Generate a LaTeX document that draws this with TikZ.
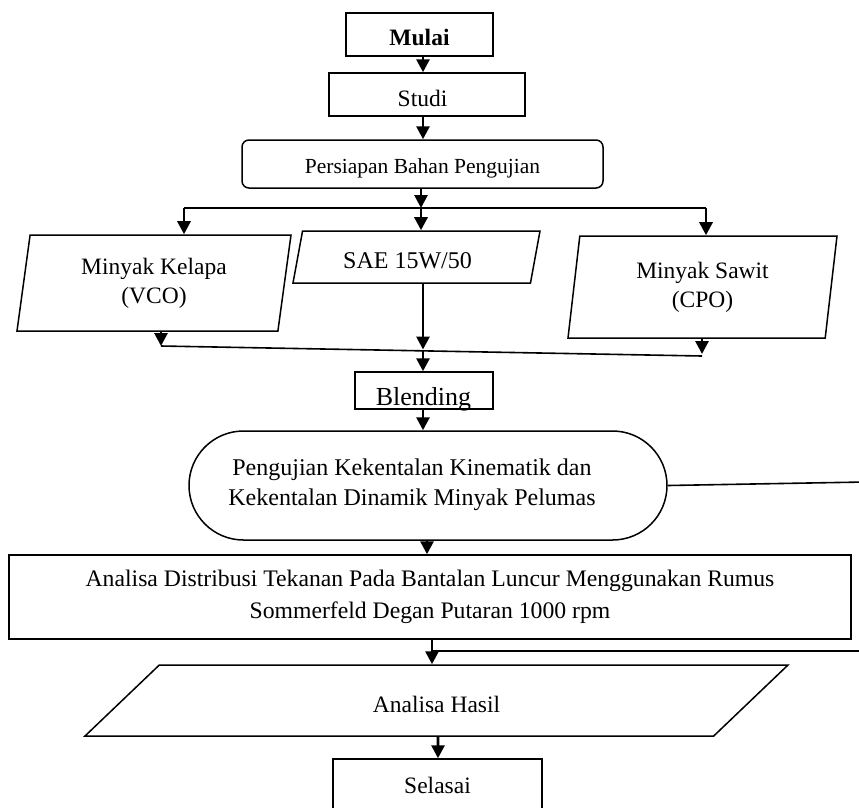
\documentclass[tikz,border=0pt]{standalone}
\usepackage{fontspec}
\setmainfont{Liberation Serif}
\usetikzlibrary{shapes.geometric,shapes.misc,arrows.meta}
\begin{document}
\begin{tikzpicture}[x=1pt,y=-1pt,
  box/.style={draw,line width=1.5pt,inner sep=0pt,align=center,font=\fontsize{23.5}{29}\selectfont},
  rbox/.style={box,rectangle},
  para/.style={box,trapezium,trapezium stretches body},
  arr/.style={line width=2.8pt,-{Triangle[length=13pt,width=13pt]}},
  ln/.style={line width=1.6pt}]
\useasboundingbox (0,0) rectangle (859,807);
\clip (0,0) rectangle (859,807);
\fill[white] (0,0) rectangle (859,807);

% nodes
\node[rbox,minimum width=147pt,minimum height=43pt,text height=22.4pt,text depth=0pt,font=\fontsize{23.5}{29}\selectfont\bfseries] (mulai) at (419.5,34.5) {Mulai};
\node[rbox,minimum width=196pt,minimum height=43pt,text height=23pt,text depth=0pt] (studi) at (427,94.5) {Studi\hspace*{9pt}};
\node[rbox,rounded corners=7pt,minimum width=361pt,minimum height=48pt,text height=18pt,text depth=0pt,font=\fontsize{21.5}{26}\selectfont] (siap) at (422.5,164) {Persiapan Bahan Pengujian};

\node[para,trapezium left angle=75.4,trapezium right angle=104.6,minimum width=274pt,minimum height=96pt] (vco) at (154,283) {Minyak Kelapa\\(VCO)};
\node[para,trapezium left angle=67.1,trapezium right angle=112.9,minimum width=247pt,minimum height=52pt,text height=22.6pt,text depth=0pt,font=\fontsize{24}{29}\selectfont] (sae) at (416.5,257) {SAE 15W/50\hspace*{18pt}};
\node[para,trapezium left angle=76.8,trapezium right angle=103.2,minimum width=269pt,minimum height=102pt] (cpo) at (702.5,287) {Minyak Sawit\\(CPO)};

\node[rbox,minimum width=138pt,minimum height=37pt] (blend) at (424,390.5) {};
\begin{scope}
\clip ([shift={(0.75pt,-0.75pt)}]blend.south west) rectangle ([shift={(-0.75pt,0.75pt)}]blend.north east);
\node[inner sep=0pt,anchor=base,font=\fontsize{26}{30}\selectfont] (blendtxt) at (423.5,405) {Blending};
\end{scope}

\node[box,rounded rectangle,minimum width=478pt,minimum height=109pt] (uji) at (428,485.5) {};
\node[align=center,inner sep=0pt,font=\fontsize{24}{30}\selectfont] (ujitxt) at (412,485) {Pengujian Kekentalan Kinematik dan\\Kekentalan Dinamik Minyak Pelumas};

\node[rbox,minimum width=842pt,minimum height=84pt,font=\fontsize{23.7}{32}\selectfont] (dist) at (430,597) {Analisa Distribusi Tekanan Pada Bantalan Luncur Menggunakan Rumus\\Sommerfeld Degan Putaran 1000 rpm};

\node[para,trapezium left angle=17.2,trapezium right angle=162.8,minimum width=703pt,minimum height=71pt,text height=23pt,text depth=0pt] (hasil) at (436.5,700.5) {Analisa Hasil};

\node[rbox,minimum width=209pt,minimum height=52pt] (selesai) at (437.5,785) {Selasai};

% junction coordinates
\coordinate (bm) at (421,208);
\coordinate (bl) at (184,208);
\coordinate (br) at (706,208);
\coordinate (jl) at (161,346);
\coordinate (jm) at (423,349.5);
\coordinate (jr) at (702,356);
\coordinate (ea) at (865,482);
\coordinate (eb) at (865,651);
\coordinate (jh) at (432,651);

% connectors
\draw[arr] ([xshift=3.5pt]mulai.south) -- ([xshift=-4pt]studi.north);
\draw[arr] ([xshift=-4pt]studi.south) -- ([xshift=0.5pt]siap.north);
\draw[arr] ([xshift=-1.5pt]siap.south) -- (bm);
\draw[ln] (bl) -- (br);
\draw[arr] (bl) -- (vco.north -| bl);
\draw[arr] (bm) -- (sae.north -| bm);
\draw[arr] (br) -- (cpo.north -| br);
\draw[arr] (vco.south -| jl) -- (jl);
\draw[ln] (jl) -- (jr);
\draw[arr] (sae.south -| jm) -- (jm);
\draw[arr] (cpo.south -| jr) -- ([yshift=2pt]jr);
\draw[arr] (jm) -- (blend.north -| jm);
\draw[arr] (blend.south -| jm) -- (uji.north -| jm);
\draw[arr] ([xshift=-1pt]uji.south) -- ([xshift=-3pt]dist.north);
\draw[ln] (uji.east) -- (ea);
\draw[ln] (eb) -- (jh);
\draw[arr] (dist.south -| jh) -- (hasil.north -| jh);
\draw[arr] ([xshift=1.5pt]hasil.south) -- ([xshift=0.5pt]selesai.north);
\end{tikzpicture}
\end{document}
